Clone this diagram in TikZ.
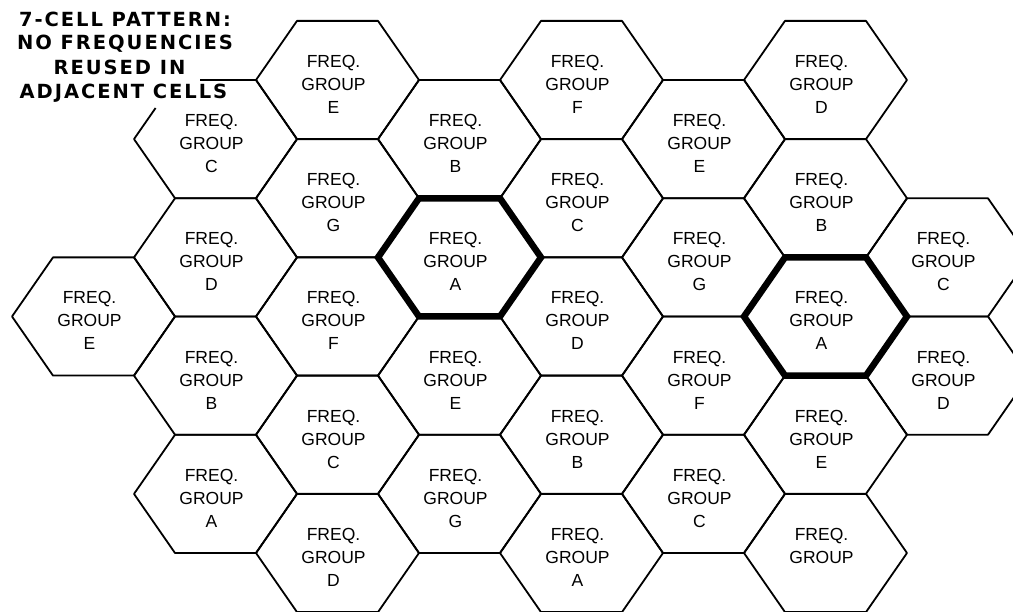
\documentclass[tikz,border=0pt]{standalone}
\usepackage{fontspec}
\setmainfont{Liberation Sans}
\newfontfamily\titlefont[LetterSpace=10]{DejaVu Sans}
\tikzset{
  cell/.style={draw=black, line width=1.8pt, line join=round},
  boldcell/.style={draw=black, line width=6.5pt, line join=miter},
  lbl/.style={anchor=north, align=center, inner sep=0pt, font=\fontsize{17.5}{23}\selectfont},
  ttl/.style={anchor=base, inner sep=0pt, font=\titlefont\bfseries\fontsize{19.5}{24}\selectfont}
}
\newcommand\hexshape[3]{%
  \draw[#3] ({#1-81.5},{#2}) -- ({#1-40.5},{#2-59.1}) -- ({#1+40.5},{#2-59.1}) -- ({#1+81.5},{#2}) -- ({#1+40.5},{#2+59.1}) -- ({#1-40.5},{#2+59.1}) -- cycle;}
\newcommand\hexcell[4]{%
  \hexshape{#1}{#2}{cell}
  \node[lbl] (#4) at ({#1-4},{#2-25}) {FREQ.\\GROUP\\#3};}
\begin{document}
\begin{tikzpicture}[x=1pt,y=-1pt]
\useasboundingbox (0,0) rectangle (1013,612);
\clip (0,0) rectangle (1013,612);
% column 0
\hexcell{93.5}{316.5}{E}{c0e}
% column 1
\draw[cell] (155.6,108) -- (134,139.1) -- (175,198.2) -- (256,198.2) -- (297,139.1) -- (256,80) -- (200,80);
\node[lbl] (c1c) at (211.5,114.1) {FREQ.\\GROUP\\C};
\hexcell{215.5}{257.4}{D}{c1d}
\hexcell{215.5}{375.6}{B}{c1b}
\hexcell{215.5}{493.9}{A}{c1a}
% column 2
\hexcell{337.5}{80}{E}{c2e}
\hexcell{337.5}{198.25}{G}{c2g}
\hexcell{337.5}{316.5}{F}{c2f}
\hexcell{337.5}{434.75}{C}{c2c}
\hexcell{337.5}{553}{D}{c2d}
% column 3
\hexcell{459.5}{139.1}{B}{c3b}
\hexcell{459.5}{257.4}{A}{c3a}
\hexcell{459.5}{375.6}{E}{c3e}
\hexcell{459.5}{493.9}{G}{c3g}
% column 4
\hexcell{581.5}{80}{F}{c4f}
\hexcell{581.5}{198.25}{C}{c4c}
\hexcell{581.5}{316.5}{D}{c4d}
\hexcell{581.5}{434.75}{B}{c4b}
\hexcell{581.5}{553}{A}{c4a}
% column 5
\hexcell{703.5}{139.1}{E}{c5e}
\hexcell{703.5}{257.4}{G}{c5g}
\hexcell{703.5}{375.6}{F}{c5f}
\hexcell{703.5}{493.9}{C}{c5c}
% column 6
\hexcell{825.5}{80}{D}{c6d}
\hexcell{825.5}{198.25}{B}{c6b}
\hexcell{825.5}{316.5}{A}{c6a}
\hexcell{825.5}{434.75}{E}{c6e}
\hexcell{825.5}{553}{{}}{c6x}
% column 7
\hexcell{947.5}{257.4}{C}{c7c}
\hexcell{947.5}{375.6}{D}{c7d}
% bold cells
\hexshape{459.5}{257.4}{boldcell}
\hexshape{825.5}{316.5}{boldcell}
% title
\node[ttl] (t1) at (125,26.7) {7-CELL PATTERN:};
\node[ttl] (t2) at (125,50) {NO FREQUENCIES};
\node[ttl] (t3) at (119.5,75) {REUSED IN};
\node[ttl] (t4) at (123.5,98.3) {ADJACENT CELLS};
\end{tikzpicture}
\end{document}
